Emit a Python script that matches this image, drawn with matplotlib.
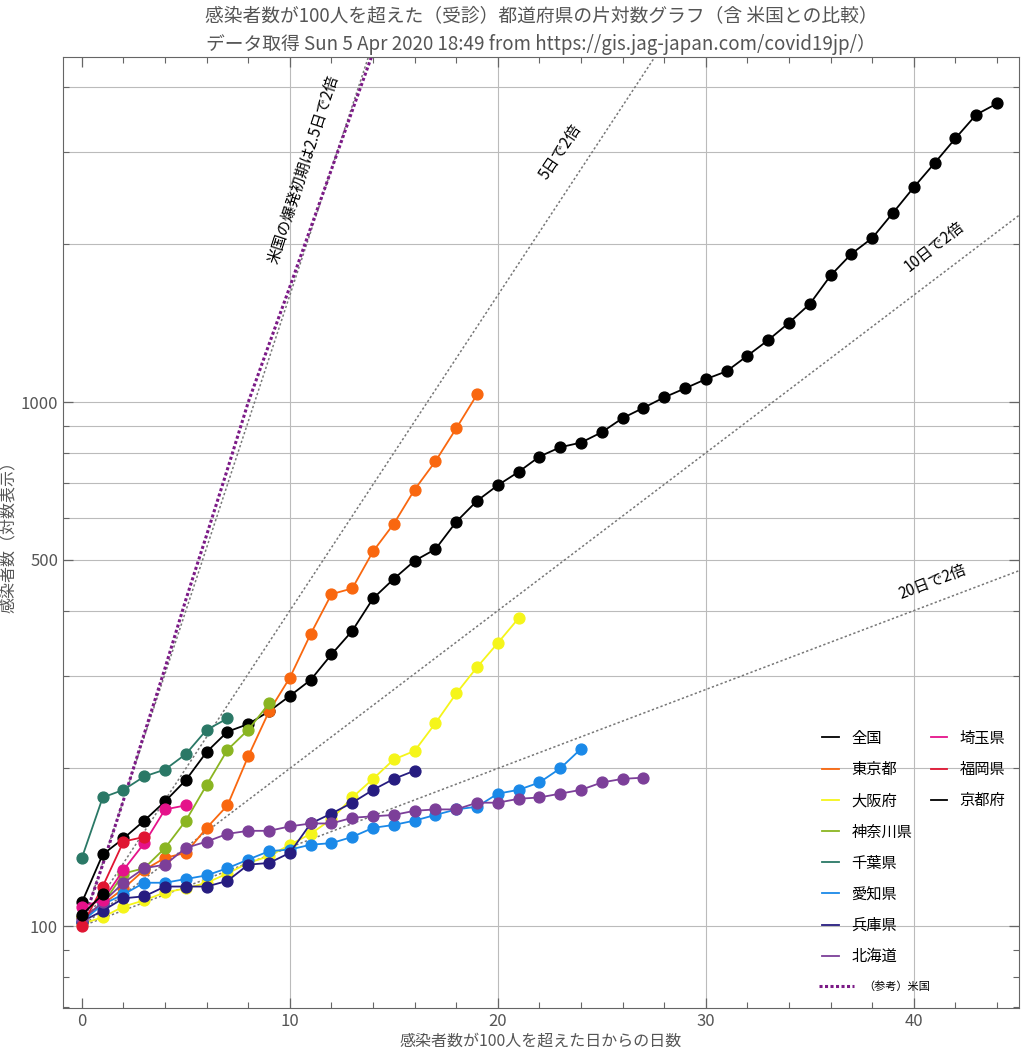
import matplotlib
matplotlib.use("Agg")
import matplotlib.pyplot as plt
from matplotlib.lines import Line2D
import numpy as np

plt.rcParams['font.family'] = ['Noto Sans CJK JP', 'DejaVu Sans']

# 各都道府県の感染者数（100人を超えた日を 0 日目とする）
national = [111, 137, 147, 159, 173, 190, 215, 235, 243, 257, 275, 295, 330, 366, 422,
            460, 498, 524, 591, 648, 694, 736, 787, 820, 837, 876, 932, 975, 1021, 1062,
            1106, 1145, 1226, 1313, 1417, 1539, 1744, 1918, 2056, 2297, 2570, 2858, 3186,
            3536, 3713]
tokyo = [104, 110, 118, 128, 135, 138, 154, 170, 211, 257, 298, 361, 430, 441, 519,
         586, 681, 771, 891, 1034]
osaka = [101, 104, 109, 112, 116, 118, 121, 126, 132, 136, 143, 150, 160, 176, 191,
         208, 216, 244, 278, 312, 347, 387]
kanagawa = [104, 110, 126, 129, 141, 159, 186, 217, 237, 266]
chiba = [135, 176, 182, 193, 199, 213, 237, 249]
aichi = [102, 110, 115, 121, 121, 123, 125, 129, 134, 139, 140, 143, 144, 148, 154,
         156, 159, 163, 167, 169, 179, 182, 188, 200, 218]
hyogo = [102, 107, 113, 114, 119, 119, 119, 122, 131, 132, 138, 157, 164, 172, 182,
         191, 198]
hokkaido = [103, 111, 121, 129, 131, 141, 145, 150, 152, 152, 155, 157, 157, 161, 162,
            163, 166, 167, 167, 172, 172, 175, 176, 179, 182, 188, 191, 192]
saitama = [109, 112, 128, 144, 167, 170]
fukuoka = [100, 119, 145, 148]
kyoto = [105, 115]
usa = [100, 131, 174, 233, 311, 420, 558, 745, 1000, 1290, 1660, 2150, 2780, 3600, 4650]

names = ["全国", "東京都", "大阪府", "神奈川県", "千葉県", "愛知県", "兵庫県", "北海道",
         "埼玉県", "福岡県", "京都府"]
values = [national, tokyo, osaka, kanagawa, chiba, aichi, hyogo, hokkaido,
          saitama, fukuoka, kyoto]
colors = ["#000000", "#f9670f", "#f5f51a", "#8ab521", "#2a7866", "#1a89e8", "#261c80",
          "#7c3f99", "#e5128a", "#e01532", "#000000"]

# 倍加日数の参考線
doubling_days = [2.5, 5, 10, 20]

fig, ax = plt.subplots(figsize=(10.24, 10.57), dpi=100)
fig.subplots_adjust(left=0.0615, right=0.995, bottom=0.0464, top=0.946)

ax.set_yscale('log')
ax.set_xlim(-0.91, 45.05)
ax.set_ylim(69.8, 4553)

# グリッド
grid_y = [100, 200, 300, 400, 500, 600, 700, 800, 900, 1000, 2000, 3000, 4000]
for gy in grid_y:
    ax.axhline(gy, color='#bbbbbb', linewidth=0.8, zorder=0)
for gx in [10, 20, 30, 40]:
    ax.axvline(gx, color='#bbbbbb', linewidth=0.8, zorder=0)

# 参考線（N日で2倍）
xs = np.linspace(0, 46, 200)
for d in doubling_days:
    ax.plot(xs, 100 * 2 ** (xs / d), color='#777777', linestyle=(0, (1.5, 1.5)),
            linewidth=1.1, zorder=1)

# 米国
ax.plot(np.arange(len(usa)), usa, color='#7b1a86', linestyle=(0, (1, 0.8)),
        linewidth=2.2, zorder=2)

# 各都道府県
for name, vals, c in zip(names, values, colors):
    ax.plot(np.arange(len(vals)), vals, color=c, marker='o', markersize=7.8,
            linewidth=1.3, zorder=3)

# 注釈
ax.text(10.64, 2784, "米国の爆発初期は2.5日で2倍", rotation=72, rotation_mode='anchor',
        ha='center', va='center', fontsize=11)
ax.text(23.03, 2999, "5日で2倍", rotation=56, rotation_mode='anchor',
        ha='center', va='center', fontsize=11)
ax.text(40.96, 1976, "10日で2倍", rotation=38, rotation_mode='anchor',
        ha='center', va='center', fontsize=11)
ax.text(40.89, 454, "20日で2倍", rotation=21, rotation_mode='anchor',
        ha='center', va='center', fontsize=11)

# 目盛り
ax.set_yticks([100, 500, 1000])
ax.set_yticklabels(["100", "500", "1000"])
ax.set_yticks([70, 80, 90, 200, 300, 400, 600, 700, 800, 900, 2000, 3000, 4000], minor=True)
ax.yaxis.set_minor_formatter(plt.NullFormatter())
ax.set_xticks([0, 10, 20, 30, 40])
ax.set_xticks(np.arange(0, 46, 2), minor=True)
ax.tick_params(which='both', direction='in', top=True, right=True, colors='#666666',
               labelcolor='#555555', labelsize=12)
ax.tick_params(which='major', length=7, width=0.9)
ax.tick_params(which='minor', length=4, width=0.8)
for s in ax.spines.values():
    s.set_color('#666666')

ax.set_xlabel("感染者数が100人を超えた日からの日数", fontsize=11.5, color='#555555', labelpad=2)
ax.set_ylabel("感染者数（対数表示）", fontsize=11.5, color='#555555', labelpad=2)
ax.set_title("感染者数が100人を超えた（受診）都道府県の片対数グラフ（含 米国との比較）\n"
             "データ取得 Sun 5 Apr 2020 18:49 from https://gis.jag-japan.com/covid19jp/）",
             fontsize=13.5, color='#555555', linespacing=1.4, pad=5)

# 凡例
handles = [Line2D([], [], color=c, linewidth=1.3) for c in colors]
labels = list(names)
blank = Line2D([], [], color='none')
handles = handles + [blank] * 5
labels = labels + [""] * 5
leg = ax.legend(handles, labels, ncol=2, loc='upper left', bbox_to_anchor=(0.78, 0.307),
                frameon=False, fontsize=11, handlelength=1.1, handletextpad=0.8,
                columnspacing=1.2, labelspacing=0.93)
ax.add_artist(leg)
us_handle = Line2D([], [], color='#7b1a86', linestyle=(0, (1, 0.8)), linewidth=2.2)
ax.legend([us_handle], ["（参考）米国"], loc='upper left', bbox_to_anchor=(0.78, 0.039),
          frameon=False, fontsize=8, handlelength=3.2, handletextpad=0.8)

fig.savefig("out.png", dpi=100)
